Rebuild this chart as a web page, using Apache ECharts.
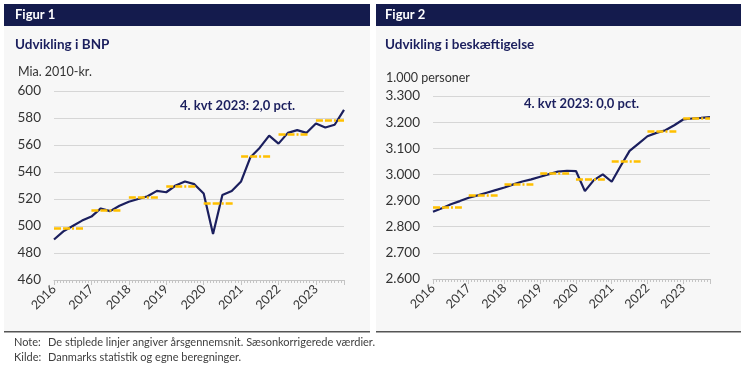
<!DOCTYPE html>
<html>
<head>
<meta charset="utf-8">
<script src="https://cdn.jsdelivr.net/npm/echarts@6/dist/echarts.min.js"></script>
<style>
  html, body { margin: 0; padding: 0; background: #fff; }
  #chart { width: 750px; height: 375px; }
</style>
</head>
<body>
<div id="chart"></div>
<script>
// quarterly values, 2016K1 .. 2023K4
const years = [2016, 2017, 2018, 2019, 2020, 2021, 2022, 2023]
const bnp = [
  490, 496, 500, 504,
  507, 513, 511, 515,
  518, 520, 522, 526,
  525, 530, 533, 531,
  524, 494, 523, 526,
  533, 551, 558, 567,
  561, 569, 571, 569,
  576, 573, 575, 586
]
const bnpAvg = [498, 511.5, 521.5, 529.5, 517, 552, 568, 578]

const beskaeft = [
  2857, 2871, 2886, 2898,
  2911, 2920, 2930, 2940,
  2950, 2962, 2973, 2981,
  2991, 3001, 3011, 3014,
  3013, 2936, 2978, 3000,
  2972, 3032, 3090, 3118,
  3146, 3159, 3169, 3188,
  3210, 3214, 3216, 3219
]
const beskaeftAvg = [2876, 2922, 2963, 3005, 2982, 3052, 3166, 3214]

const navy = '#1b1f5e'
const gold = '#FFC000'
const font = 'Lato'
const lastMonth = 93

const chart = echarts.init(document.getElementById('chart'))

// quarter i sits at month i*3 on the x axis
const toPoints = arr => arr.map((v, i) => [i * 3, v])
const avgLines = arr => arr.map((v, i) => [
  { coord: [i * 12, v] },
  { coord: [Math.min(i * 12 + 9.7, lastMonth), v] }
])

function xAxisFor(gridIndex) {
  return {
    type: 'value',
    gridIndex,
    min: 0,
    max: lastMonth,
    interval: 12,
    axisLine: { lineStyle: { color: '#c4c4c4', width: 1 } },
    axisTick: { show: true, length: 5, lineStyle: { color: '#c4c4c4' } },
    minorTick: { show: true, splitNumber: 12, length: 3, lineStyle: { color: '#c4c4c4' } },
    splitLine: { show: false },
    axisLabel: {
      rotate: 45,
      fontFamily: font,
      fontSize: 12.5,
      color: '#333',
      margin: 7,
      showMaxLabel: false,
      formatter: v => (v % 12 === 0 ? String(years[0] + v / 12) : '')
    }
  }
}

function yAxisFor(gridIndex, min, max, interval, fmt) {
  return {
    type: 'value',
    gridIndex,
    min, max, interval,
    axisLine: { show: false },
    axisTick: { show: false },
    splitLine: { lineStyle: { color: '#d6d6d6', width: 1 } },
    axisLabel: {
      fontFamily: font,
      fontSize: 13.5,
      color: '#333',
      margin: 13,
      formatter: fmt
    }
  }
}

function lineSeries(idx, data, avg) {
  return {
    type: 'line',
    xAxisIndex: idx,
    yAxisIndex: idx,
    data: toPoints(data),
    symbol: 'none',
    lineStyle: { color: navy, width: 2.2 },
    z: 3,
    markLine: {
      silent: true,
      symbol: 'none',
      label: { show: false },
      lineStyle: { color: gold, width: 2.5, type: [7, 2, 7, 2, 2, 2] },
      data: avgLines(avg),
      z: 6
    }
  }
}

const thousands = v => (v / 1000).toFixed(3)

const option = {
  animation: false,
  backgroundColor: '#fff',
  textStyle: { fontFamily: font },
  graphic: [
    // panels
    { type: 'rect', shape: { x: 4, y: 4, width: 366, height: 327 }, style: { fill: '#f7f7f7' }, z: -10 },
    { type: 'rect', shape: { x: 376, y: 4, width: 365, height: 327 }, style: { fill: '#f7f7f7' }, z: -10 },
    { type: 'rect', shape: { x: 4, y: 4, width: 366, height: 22 }, style: { fill: '#141b4d' }, z: -9 },
    { type: 'rect', shape: { x: 376, y: 4, width: 365, height: 22 }, style: { fill: '#141b4d' }, z: -9 },
    { type: 'rect', shape: { x: 4, y: 331, width: 366, height: 1.5 }, style: { fill: '#555' }, z: -9 },
    { type: 'rect', shape: { x: 376, y: 331, width: 365, height: 1.5 }, style: { fill: '#555' }, z: -9 },
    // headers and titles
    { type: 'text', left: 15, top: 8, style: { text: 'Figur 1', fill: '#fff', font: 'bold 13px ' + font } },
    { type: 'text', left: 385, top: 8, style: { text: 'Figur 2', fill: '#fff', font: 'bold 13px ' + font } },
    { type: 'text', left: 15, top: 38, style: { text: 'Udvikling i BNP', fill: navy, font: 'bold 13.5px ' + font } },
    { type: 'text', left: 385, top: 38, style: { text: 'Udvikling i beskæftigelse', fill: navy, font: 'bold 13.5px ' + font } },
    { type: 'text', left: 18, top: 65, style: { text: 'Mia. 2010-kr.', fill: '#333', font: '12.5px ' + font } },
    { type: 'text', left: 386, top: 71, style: { text: '1.000 personer', fill: '#333', font: '12.5px ' + font } },
    // annotations
    { type: 'text', left: 180, top: 99, style: { text: '4. kvt 2023: 2,0 pct.', fill: navy, font: 'bold 13px ' + font } },
    { type: 'text', left: 524, top: 97, style: { text: '4. kvt 2023: 0,0 pct.', fill: navy, font: 'bold 13px ' + font } },
    // notes
    { type: 'text', left: 14, top: 337, style: { text: 'Note:', fill: '#404040', font: '11px ' + font } },
    { type: 'text', left: 48, top: 337, style: { text: 'De stiplede linjer angiver årsgennemsnit. Sæsonkorrigerede værdier.', fill: '#404040', font: '11px ' + font } },
    { type: 'text', left: 14, top: 352, style: { text: 'Kilde:', fill: '#404040', font: '11px ' + font } },
    { type: 'text', left: 48, top: 352, style: { text: 'Danmarks statistik og egne beregninger.', fill: '#404040', font: '11px ' + font } }
  ],
  grid: [
    { left: 54, right: 406, top: 91, bottom: 95 },
    { left: 433, right: 40, top: 96, bottom: 96 }
  ],
  xAxis: [xAxisFor(0), xAxisFor(1)],
  yAxis: [
    yAxisFor(0, 460, 600, 20, v => String(v)),
    yAxisFor(1, 2600, 3300, 100, thousands)
  ],
  series: [
    lineSeries(0, bnp, bnpAvg),
    lineSeries(1, beskaeft, beskaeftAvg)
  ]
}

chart.setOption(option)
</script>
</body>
</html>
